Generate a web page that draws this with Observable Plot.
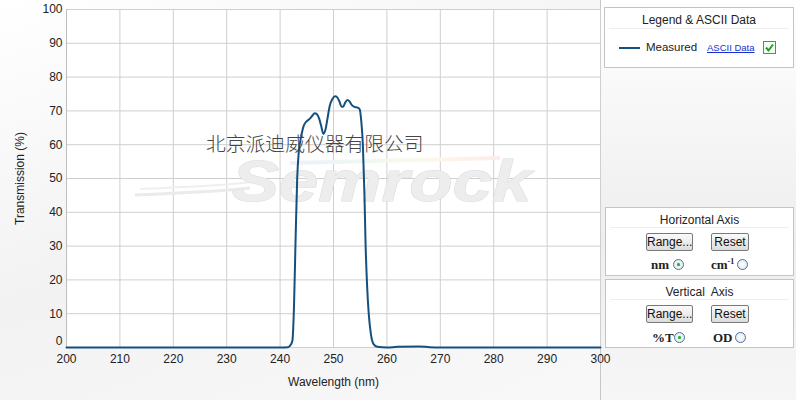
<!DOCTYPE html>
<html>
<head>
<meta charset="utf-8">
<script src="https://cdn.jsdelivr.net/npm/d3@7"></script>
<script src="https://cdn.jsdelivr.net/npm/@observablehq/plot@0.6"></script>
<style>
  html, body { margin: 0; padding: 0; background: #fff; }
  #wrap { position: relative; width: 796px; height: 400px; overflow: hidden;
          background: linear-gradient(160deg, #ffffff 0%, #f2f2f2 45%, #fafafa 100%);
          font-family: "Liberation Sans", Arial, sans-serif; color: #222; }
  #chart { position: absolute; left: 0; top: 0; z-index: 2; pointer-events: none; }
  #side { position: absolute; left: 600px; top: 0; width: 195px; height: 400px; z-index: 1;
          border-left: 1px solid #c8c8c8;
          background: linear-gradient(180deg, #ffffff 0%, #eeeeee 60%, #f6f6f6 100%); }
  .panel { position: absolute; background: #fff; border: 1px solid #c4c4c4; box-sizing: border-box; }
  .ptitle { position: absolute; left: 0; right: 0; text-align: center; font-size: 12px; color: #222; white-space: pre; }
  .sep { position: absolute; left: 4px; right: 4px; height: 1px; background: #eeeeee; }
  .btn { position: absolute; height: 18px; box-sizing: border-box; border: 1px solid #7a7a7a; border-radius: 2px;
         background: linear-gradient(#fbfbfb, #dcdcdc); font-size: 12px; line-height: 16px; text-align: center; color: #111; }
  .rl { position: absolute; font-family: "Liberation Serif", "Times New Roman", serif; font-weight: bold; font-size: 13px; color: #222; }
  .radio { position: absolute; width: 11px; height: 11px; border-radius: 50%; box-sizing: border-box;
           border: 1px solid #4f6f97; background: radial-gradient(#ffffff, #dde6ef); }
  .radio.on::after { content: ""; position: absolute; left: 3px; top: 3px; width: 3px; height: 3px; border-radius: 50%; background: #2fae2f; box-shadow: 0 0 1px #3c3; }
  #cn { position: absolute; left: 206px; top: 131px; z-index: 3; font-family: "Noto Sans CJK SC", sans-serif; font-size: 19.8px;
        color: #444; font-weight: 300; white-space: nowrap; line-height: 24px; }
</style>
</head>
<body>
<div id="wrap">
  <div id="side">
    <div class="panel" style="left:3px; top:7px; width:190px; height:61px;">
      <div class="ptitle" style="top:5px;">Legend &amp; ASCII Data</div>
      <div class="sep" style="top:20px;"></div>
      <div style="position:absolute; left:14px; top:39px; width:21px; height:2px; background:#14507e;"></div>
      <div style="position:absolute; left:41px; top:33px; font-size:11.5px; color:#222;">Measured</div>
      <div style="position:absolute; left:102px; top:34px; font-size:9.5px; color:#1a2fd0; text-decoration:underline;">ASCII Data</div>
      <div style="position:absolute; left:158px; top:33px; width:13px; height:13px; box-sizing:border-box; border:1px solid #5c8a5c; background:#f4fff4;">
        <svg width="11" height="11" style="position:absolute;left:0;top:0"><path d="M2 5.5 L4.5 8.5 L9 2.5" fill="none" stroke="#22a022" stroke-width="2"/></svg>
      </div>
    </div>
    <div class="panel" style="left:4px; top:207px; width:189px; height:69px;">
      <div class="ptitle" style="top:5px;">Horizontal Axis</div>
      <div class="sep" style="top:19px;"></div>
      <div class="btn" style="left:40px; top:25px; width:47px;">Range...</div>
      <div class="btn" style="left:105px; top:25px; width:38px;">Reset</div>
      <div class="rl" style="left:45px; top:49px;">nm</div>
      <div class="radio on" style="left:67px; top:51px;"></div>
      <div class="rl" style="left:105px; top:49px;">cm<sup style="font-size:8px; vertical-align:5px;">-1</sup></div>
      <div class="radio" style="left:131px; top:51px;"></div>
    </div>
    <div class="panel" style="left:4px; top:279px; width:189px; height:69px;">
      <div class="ptitle" style="top:5px;">Vertical  Axis</div>
      <div class="sep" style="top:19px;"></div>
      <div class="btn" style="left:40px; top:25px; width:47px;">Range...</div>
      <div class="btn" style="left:105px; top:25px; width:38px;">Reset</div>
      <div class="rl" style="left:46px; top:50px;">%T</div>
      <div class="radio on" style="left:68px; top:52px;"></div>
      <div class="rl" style="left:107px; top:50px;">OD</div>
      <div class="radio" style="left:129px; top:52px;"></div>
    </div>
  </div>
  <div id="chart"></div>
  <div id="cn">北京派迪威仪器有限公司</div>
</div>
<script>
// ---- data ----
const wavelength = [200, 220, 240, 241.5, 242.0, 242.3, 242.6, 242.9, 243.2, 243.5, 243.9, 244.4, 244.9, 245.5, 246.0, 246.5, 246.9, 247.3, 247.7, 248.1, 248.5, 248.9, 249.3, 249.8, 250.3, 250.7, 251.1, 251.5, 251.8, 252.2, 252.6, 253.0, 253.4, 253.9, 254.5, 254.9, 255.2, 255.5, 255.8, 256.0, 256.3, 256.6, 257.0, 257.5, 258.2, 260, 262, 266, 268, 270, 285, 300];
const transmission = [0, 0, 0, 0.1, 0.8, 2, 12, 32, 50, 58, 62, 65.5, 66.8, 67.6, 68.5, 69.3, 69, 67.8, 65.5, 63.2, 64.5, 68, 71.5, 73.5, 74.3, 74, 72.8, 71.3, 71.2, 72.5, 73.2, 72.8, 71.8, 71.2, 71, 70.5, 67, 60, 45, 31, 18, 10, 4, 1, 0.2, 0, 0.2, 0.3, 0.1, 0, 0, 0];
const xTicks = [200, 210, 220, 230, 240, 250, 260, 270, 280, 290, 300];
const yTicks = [0, 10, 20, 30, 40, 50, 60, 70, 80, 90, 100];
const yTicksUpper = yTicks.filter(v => v > 0);
const yTicksZero = yTicks.filter(v => v === 0);
const seriesName = "Measured";
const watermark = ["Semrock"];

const rows = wavelength.map((w, i) => ({wl: w, t: transmission[i], series: seriesName}));

const chart = Plot.plot({
  width: 620,
  height: 400,
  marginLeft: 66,
  marginRight: 20,
  marginTop: 9,
  marginBottom: 53,
  style: {background: "transparent", fontFamily: "'Liberation Sans', Arial, sans-serif", fontSize: "12px", color: "#222", overflow: "visible"},
  x: {domain: [200, 300]},
  y: {domain: [0, 100]},
  marks: [
    Plot.frame({fill: "#ffffff", stroke: "none"}),
    Plot.gridX(xTicks, {stroke: "#cfcfcf", strokeOpacity: 1}),
    Plot.gridY(yTicks, {stroke: "#cfcfcf", strokeOpacity: 1}),
    Plot.text(watermark, {frameAnchor: "middle", dx: 48, dy: 4, fontSize: 58, fontStyle: "italic", fontWeight: "bold",
      fill: "#ededed", stroke: "#dcdcdc", strokeWidth: 1, text: d => d}),
    Plot.ruleX([200], {stroke: "#bdbdbd"}),
    Plot.line(rows, {x: "wl", y: "t", stroke: "#14507e", strokeWidth: 2, curve: "monotone-x"}),
    Plot.axisX(xTicks, {tickSize: 0, tickPadding: 7, label: "Wavelength (nm)", labelAnchor: "center", labelArrow: "none", labelOffset: 38}),
    Plot.axisY(yTicksUpper, {tickSize: 0, tickPadding: 4, label: "Transmission (%)", labelAnchor: "center", labelArrow: "none", labelOffset: 51}),
    Plot.axisY(yTicksZero, {tickSize: 0, tickPadding: 4, dy: -6, label: null})
  ]
});
document.getElementById("chart").appendChild(chart);

// stretch the watermark word and add its faint swoosh behind it
const svg = d3.select(chart);
const wm = svg.selectAll("text").filter(function() { return this.textContent === "Semrock"; });
wm.attr("textLength", 300).attr("lengthAdjust", "spacingAndGlyphs");
const wmGroup = d3.select(wm.node().closest("g"));
const sw = svg.insert("g", () => wmGroup.node()).attr("fill", "none");
sw.append("path").attr("d", "M135,195 C175,193 215,192 250,188").attr("stroke", "#ebebeb").attr("stroke-width", 3);
sw.append("path").attr("d", "M140,189 C180,187 220,186 252,182").attr("stroke", "#efefef").attr("stroke-width", 2);
const grad = svg.append("defs").append("linearGradient").attr("id", "rb").attr("x1", "0").attr("x2", "1");
[["0", "#eeeefc"], ["0.35", "#eef8f2"], ["0.65", "#fcf8e8"], ["1", "#fcecec"]].forEach(([o, c]) =>
  grad.append("stop").attr("offset", o).attr("stop-color", c));
sw.append("path").attr("d", "M290,163 L500,158").attr("stroke", "url(#rb)").attr("stroke-width", 4);
</script>
</body>
</html>
